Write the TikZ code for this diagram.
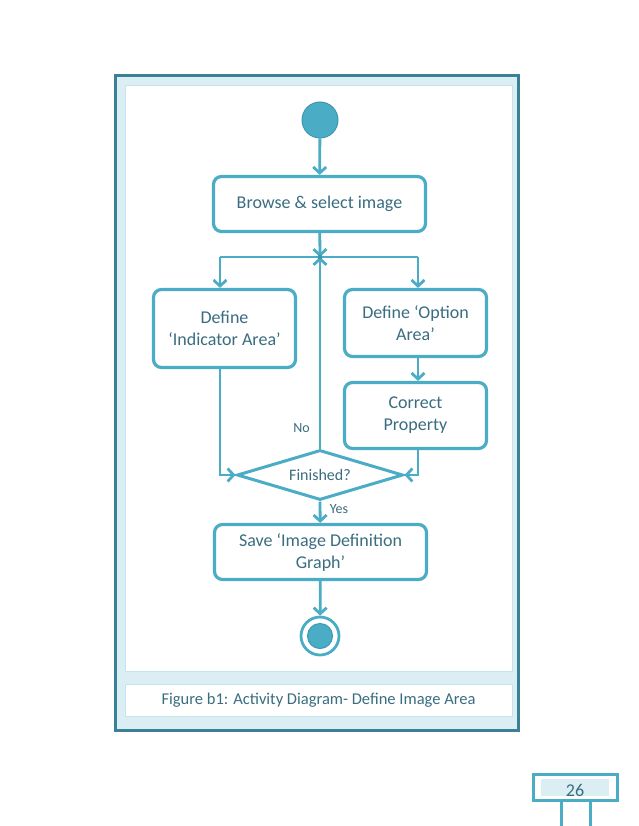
\documentclass[tikz,border=0pt]{standalone}
\usepackage{fontspec}
\setmainfont{Carlito}
\usetikzlibrary{arrows.meta,shapes.geometric}
\definecolor{ln}{HTML}{4BACC6}
\definecolor{lnd}{HTML}{3E97AF}
\definecolor{tx}{HTML}{3A6D80}
\definecolor{fr}{HTML}{3A8198}
\definecolor{lt}{HTML}{DAEEF3}
\definecolor{pl}{HTML}{C5E4EE}
\begin{document}
\begin{tikzpicture}[x=1pt,y=-1pt,
  act/.style={draw=ln,line width=3.2pt,rounded corners=8pt,fill=white,text=tx,
    font=\fontsize{18}{22}\selectfont,align=center,inner sep=0pt},
  flow/.style={draw=ln,line width=2.8pt,-{Straight Barb[length=6pt,width=13pt]}},
  plain/.style={draw=ln,line width=2.8pt},
  lbl/.style={text=tx,font=\fontsize{14}{16}\selectfont,inner sep=0pt}]
\useasboundingbox (0,0) rectangle (638,826);
% frame
\fill[lt] (117,77) rectangle (517,729);
\draw[fr,line width=3pt] (115.5,75.5) rectangle (518.5,730.5);
\draw[pl,fill=white,line width=1pt] (125,86) rectangle (512,671);
\draw[pl,fill=white,line width=1pt] (125,684) rectangle (512,716);
\node[text=tx,font=\fontsize{16.5}{19}\selectfont] (cap) at (318.5,700.5) {Figure b1: Activity Diagram- Define Image Area};
% page number
\fill[lt] (541,779) rectangle (609,796);
\draw[ln,line width=3pt] (533,774) rectangle (617,800);
\draw[ln,line width=3pt] (561,800) -- (561,826);
\draw[ln,line width=3pt] (590,800) -- (590,826);
\node[text=tx,font=\fontsize{18}{20}\selectfont] (pg) at (575,790) {26};
% nodes
\node[circle,fill=ln,draw=lnd,line width=1pt,minimum size=36pt,inner sep=0pt] (start) at (320,120) {};
\node[act,minimum width=212pt,minimum height=55pt] (browse) at (319.5,204) {Browse \& select image};
\node[act,minimum width=142pt,minimum height=78pt] (left) at (224.5,328.5) {Define\\‘Indicator Area’};
\node[act,minimum width=142pt,minimum height=67pt] (option) at (415.5,323) {Define ‘Option\\Area’};
\node[act,minimum width=142pt,minimum height=66pt] (correct) at (415.5,415.5) {Correct\\Property};
\node[diamond,draw=ln,line width=3pt,fill=white,text=tx,font=\fontsize{16}{19}\selectfont,
  minimum width=166pt,minimum height=50pt,aspect=3.3,inner sep=0pt] (dec) at (320,475) {Finished?};
\node[act,minimum width=212pt,minimum height=55pt] (save) at (320.5,552) {Save ‘Image Definition\\Graph’};
\node[circle,draw=ln,line width=2.8pt,fill=white,minimum size=38pt,inner sep=0pt] (stop) at (320,636) {};
\node[circle,fill=ln,draw=lnd,line width=1pt,minimum size=25pt,inner sep=0pt] (stopin) at (stop.center) {};
% junction
\coordinate (j) at (320,257);
\coordinate (jl) at (220,257);
\coordinate (jr) at (418,257);
% connectors
\draw[flow] (start) -- (browse);
\draw[flow] (browse) -- (j);
\draw[plain] (jl) -- (jr);
\draw[flow] (jl) -- (jl |- left.north);
\draw[flow] (jr) -- (jr |- option.north);
\draw[flow] (dec.north) -- (j);
\fill[lnd] (j) circle (2.5pt);
\draw[flow] (jr |- option.south) -- (jr |- correct.north);
\draw[flow] (jl |- left.south) |- (dec.west);
\draw[flow] (jr |- correct.south) |- (dec.east);
\draw[flow] (dec.south) -- (save);
\draw[flow] (save) -- (stop);
\node[lbl] (no) at (301.5,428) {No};
\node[lbl] (yes) at (339,509) {Yes};
\end{tikzpicture}
\end{document}
